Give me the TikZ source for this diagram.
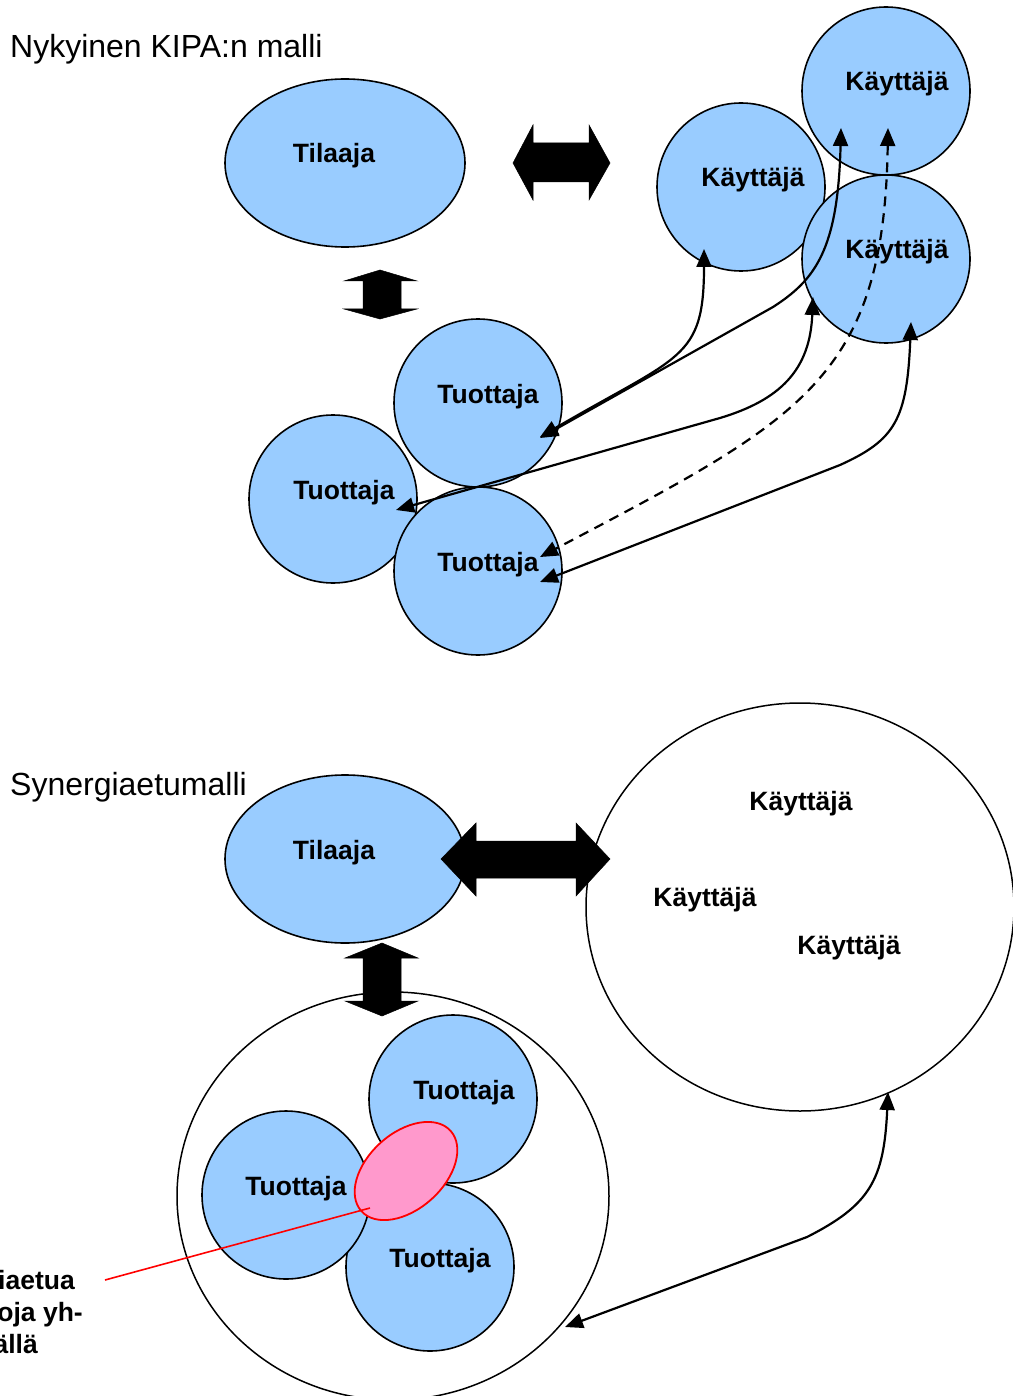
\documentclass[tikz,border=0pt]{standalone}
\usepackage{fontspec}
\setmainfont{Liberation Sans}
\usetikzlibrary{arrows.meta,shapes.geometric}

\definecolor{roleblue}{RGB}{153,204,255}
\definecolor{synpink}{RGB}{255,153,204}

\tikzset{
  role/.style={circle, draw=black, line width=1.6pt, fill=roleblue,
    minimum size=168pt, inner sep=0pt},
  orderer/.style={ellipse, draw=black, line width=1.6pt, fill=roleblue,
    minimum width=240pt, minimum height=168pt, inner sep=0pt},
  group/.style={ellipse, draw=black, line width=1.5pt, fill=white, inner sep=0pt},
  lbl/.style={font=\fontsize{26.5}{30}\selectfont\bfseries, anchor=base, inner sep=0pt},
  heading/.style={font=\fontsize{32}{36}\selectfont, anchor=base west, inner sep=0pt},
  blockarrow/.style={fill=black, draw=black, line width=0.5pt, line join=miter},
  link/.style={line width=2.2pt,
    {Triangle[length=18pt,width=15pt]}-{Triangle[length=18pt,width=15pt]}},
  dashlink/.style={link, dash pattern=on 10pt off 7pt},
}

\begin{document}
\begin{tikzpicture}[x=1pt,y=-1pt]
\useasboundingbox (0,0) rectangle (1012,1396);

% ---------------- current model ----------------
\node[heading] (title1) at (10,58) {Nykyinen KIPA:n malli};

\node[orderer] (til1) at (345,163) {};
\node[lbl] at ([shift={(-11,0)}]til1.center) {Tilaaja};

% users
\node[role] (kA) at (741,187) {};
\node[role] (kB) at (886,91) {};
\node[role] (kC) at (886,259) {};
\node[lbl] at ([shift={(12,0)}]kA.center) {Käyttäjä};
\node[lbl] at ([shift={(11,0)}]kB.center) {Käyttäjä};
\node[lbl] at ([shift={(11,0)}]kC.center) {Käyttäjä};

% producers
\node[role] (t1) at (478,403) {};
\node[role] (t2) at (333,499) {};
\node[role] (t3) at (478,571) {};
\node[lbl] at ([shift={(10,0)}]t1.center) {Tuottaja};
\node[lbl] at ([shift={(11,0)}]t2.center) {Tuottaja};
\node[lbl] at ([shift={(10,0)}]t3.center) {Tuottaja};

% block arrows
\fill[blockarrow] (513,163) -- (533,125) -- (533,143) -- (589,143) -- (589,125)
  -- (610,163) -- (589,200) -- (589,182) -- (533,182) -- (533,200) -- cycle;
\fill[blockarrow] (380,270) -- (417,281) -- (401,281) -- (401,309) -- (417,309)
  -- (380,319) -- (344,309) -- (363,309) -- (363,281) -- (344,281) -- cycle;

% user <-> producer links
\draw[link] ([shift={(-37,62)}]kA.center)
  .. controls (704,360) and (680,355) .. ([shift={(62,34)}]t1.center);
\draw[link] ([shift={(-45,37)}]kB.center)
  .. controls (838,250) and (815,280) .. (773,307) -- ([shift={(62,35)}]t1.center);
\draw[link] ([shift={(-73,38)}]kC.center)
  .. controls (810,370) and (780,400) .. (720,418) -- ([shift={(63,11)}]t2.center);
\draw[dashlink] ([shift={(2,37)}]kB.center)
  .. controls (884,380) and (800,420) .. ([shift={(62,-14)}]t3.center);
\draw[link] ([shift={(25,63)}]kC.center)
  .. controls (907,420) and (895,440) .. (840,465) -- ([shift={(62,11)}]t3.center);

% ---------------- synergy model ----------------
\node[heading] (title2) at (10,795) {Synergiaetumalli};

\node[group, minimum width=428pt, minimum height=408pt] (users) at (800,907) {};
\node[lbl] at (801,810) {Käyttäjä};
\node[lbl] at (705,906) {Käyttäjä};
\node[lbl] at (849,954) {Käyttäjä};

\node[group, minimum width=432pt, minimum height=408pt] (prod) at (393,1196) {};

\node[orderer] (til2) at (345,859) {};
\node[lbl] at ([shift={(-11,0)}]til2.center) {Tilaaja};

\node[role] (u1) at (453,1099) {};
\node[role] (u3) at (430,1267) {};
\node[role] (u2) at (286,1195) {};
\node[lbl] at ([shift={(11,0)}]u1.center) {Tuottaja};
\node[lbl] at ([shift={(10,0)}]u2.center) {Tuottaja};
\node[lbl] at ([shift={(10,0)}]u3.center) {Tuottaja};

% shared benefit
\node[ellipse, draw=red, line width=1.8pt, fill=synpink, minimum width=120pt,
  minimum height=76pt, rotate=42, inner sep=0pt] (syn) at (406,1171) {};
\coordinate (note) at (105,1280);
\draw[red, line width=1.6pt] (note) -- ([shift={(-36,37)}]syn.center);
\node[lbl, anchor=base east] at (75,1289) {iaetua};
\node[lbl, anchor=base east] at (83,1321) {oja yh-};
\node[lbl, anchor=base east] at (38,1353) {ällä};

% block arrows
\fill[blockarrow] (441,859) -- (476,823) -- (476,841) -- (576,841) -- (576,823)
  -- (610,859) -- (576,896) -- (576,878) -- (476,878) -- (476,896) -- cycle;
\fill[blockarrow] (382,943) -- (418,958) -- (401,958) -- (401,1001) -- (418,1001)
  -- (382,1016) -- (345,1001) -- (363,1001) -- (363,958) -- (345,958) -- cycle;

% users <-> producers link
\draw[link] ([shift={(88,185)}]users.center)
  .. controls (884,1180) and (870,1205) .. (807,1237) -- ([shift={(172,131)}]prod.center);
\end{tikzpicture}
\end{document}
